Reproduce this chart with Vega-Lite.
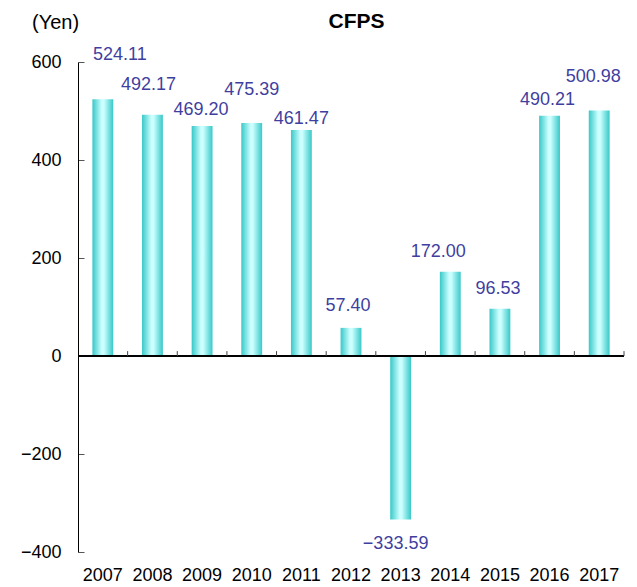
{
  "$schema": "https://vega.github.io/schema/vega-lite/v6.json",
  "autosize": "none",
  "width": 546,
  "height": 490,
  "padding": {"left": 78, "top": 62, "right": 13, "bottom": 35},
  "background": "white",
  "data": {
    "values": [
      {"year": "2007", "cfps": 524.11},
      {"year": "2008", "cfps": 492.17},
      {"year": "2009", "cfps": 469.20},
      {"year": "2010", "cfps": 475.39},
      {"year": "2011", "cfps": 461.47},
      {"year": "2012", "cfps": 57.40},
      {"year": "2013", "cfps": -333.59},
      {"year": "2014", "cfps": 172.00},
      {"year": "2015", "cfps": 96.53},
      {"year": "2016", "cfps": 490.21},
      {"year": "2017", "cfps": 500.98}
    ]
  },
  "resolve": {"axis": {"x": "independent"}},
  "layer": [
    {
      "mark": {
        "type": "bar",
        "width": {"band": 0.42},
        "color": {
          "gradient": "linear",
          "x1": 0, "y1": 0, "x2": 1, "y2": 0,
          "stops": [
            {"offset": 0, "color": "#38c8c8"},
            {"offset": 0.45, "color": "#ccffff"},
            {"offset": 0.55, "color": "#ccffff"},
            {"offset": 1, "color": "#38c8c8"}
          ]
        }
      },
      "encoding": {
        "x": {
          "field": "year",
          "type": "ordinal",
          "scale": {"paddingInner": 0, "paddingOuter": 0},
          "axis": {
            "title": null,
            "domain": false,
            "ticks": false,
            "labelAngle": 0,
            "labelFont": "Liberation Sans",
            "labelFontSize": 18,
            "labelColor": "#000000",
            "labelPadding": 14
          }
        },
        "y": {
          "field": "cfps",
          "type": "quantitative",
          "scale": {"domain": [-400, 600], "nice": false, "zero": false},
          "axis": {
            "values": [-400, -200, 0, 200, 400, 600],
            "grid": false,
            "domainColor": "#000000",
            "domainWidth": 1,
            "tickSize": -6,
            "tickColor": "#555555",
            "labelFont": "Liberation Sans",
            "labelFontSize": 18,
            "labelColor": "#000000",
            "labelPadding": 23,
            "title": "(Yen)",
            "titleFont": "Liberation Sans",
            "titleFontSize": 20,
            "titleFontWeight": "normal",
            "titleColor": "#000000",
            "titleAngle": 0,
            "titleAlign": "center",
            "titleBaseline": "middle",
            "titleX": -23,
            "titleY": -40
          }
        }
      }
    },
    {
      "mark": {"type": "rule", "color": "#000000", "strokeWidth": 1.2},
      "encoding": {"y": {"datum": 0}}
    },
    {
      "mark": {"type": "rule", "color": "#444444", "strokeWidth": 1},
      "encoding": {
        "x": {
          "field": "year",
          "type": "ordinal",
          "bandPosition": 1,
          "axis": {
            "orient": "top",
            "labels": false,
            "ticks": false,
            "domain": false,
            "title": "CFPS",
            "titleFont": "Liberation Sans",
            "titleFontSize": 21,
            "titleFontWeight": "bold",
            "titleColor": "#000000",
            "titleAlign": "center",
            "titleBaseline": "alphabetic",
            "titleX": 278,
            "titleY": -35
          }
        },
        "y": {"datum": 0},
        "y2": {"datum": 10}
      }
    },
    {
      "encoding": {
        "x": {"field": "year", "type": "ordinal", "axis": null},
        "y": {"field": "cfps", "type": "quantitative"},
        "text": {"field": "cfps", "type": "quantitative", "format": ".2f"}
      },
      "layer": [
        {"transform": [{"filter": "datum.year === '2007'"}], "mark": {"type": "text", "font": "Liberation Sans", "fontSize": 18, "color": "#3f3f9f", "baseline": "middle", "dx": 17, "dy": -44}},
        {"transform": [{"filter": "datum.year === '2008'"}], "mark": {"type": "text", "font": "Liberation Sans", "fontSize": 18, "color": "#3f3f9f", "baseline": "middle", "dx": -4, "dy": -30}},
        {"transform": [{"filter": "datum.year === '2009'"}], "mark": {"type": "text", "font": "Liberation Sans", "fontSize": 18, "color": "#3f3f9f", "baseline": "middle", "dx": -1, "dy": -16}},
        {"transform": [{"filter": "datum.year === '2010'"}], "mark": {"type": "text", "font": "Liberation Sans", "fontSize": 18, "color": "#3f3f9f", "baseline": "middle", "dx": 0, "dy": -33}},
        {"transform": [{"filter": "datum.year === '2011'"}], "mark": {"type": "text", "font": "Liberation Sans", "fontSize": 18, "color": "#3f3f9f", "baseline": "middle", "dx": 0, "dy": -10.5}},
        {"transform": [{"filter": "datum.year === '2012'"}], "mark": {"type": "text", "font": "Liberation Sans", "fontSize": 18, "color": "#3f3f9f", "baseline": "middle", "dx": -3, "dy": -21.5}},
        {"transform": [{"filter": "datum.year === '2013'"}], "mark": {"type": "text", "font": "Liberation Sans", "fontSize": 18, "color": "#3f3f9f", "baseline": "middle", "dx": -5, "dy": 24.5}},
        {"transform": [{"filter": "datum.year === '2014'"}], "mark": {"type": "text", "font": "Liberation Sans", "fontSize": 18, "color": "#3f3f9f", "baseline": "middle", "dx": -12, "dy": -19.5}},
        {"transform": [{"filter": "datum.year === '2015'"}], "mark": {"type": "text", "font": "Liberation Sans", "fontSize": 18, "color": "#3f3f9f", "baseline": "middle", "dx": -2, "dy": -20}},
        {"transform": [{"filter": "datum.year === '2016'"}], "mark": {"type": "text", "font": "Liberation Sans", "fontSize": 18, "color": "#3f3f9f", "baseline": "middle", "dx": -2, "dy": -16}},
        {"transform": [{"filter": "datum.year === '2017'"}], "mark": {"type": "text", "font": "Liberation Sans", "fontSize": 18, "color": "#3f3f9f", "baseline": "middle", "dx": -6, "dy": -34}}
      ]
    }
  ],
  "config": {
    "view": {"stroke": null}
  }
}
